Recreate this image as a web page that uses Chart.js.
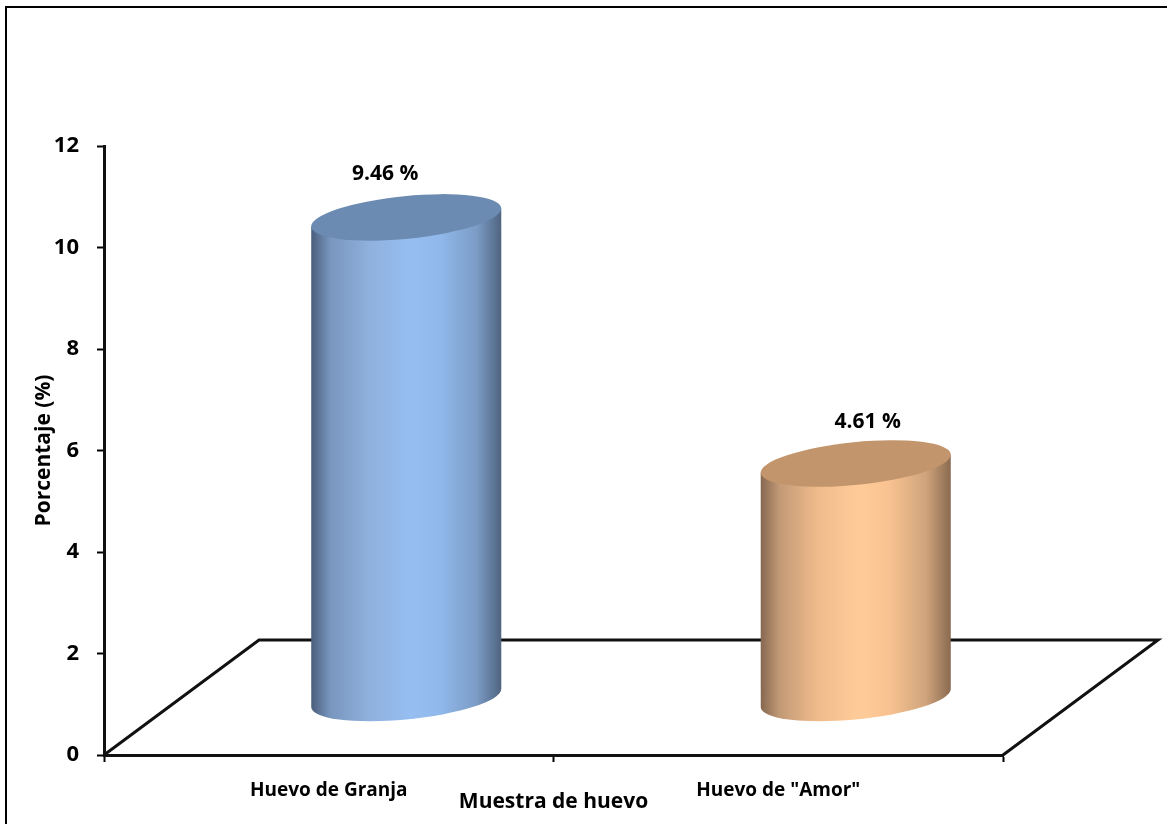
<!DOCTYPE html>
<html lang="es">
<head>
<meta charset="utf-8">
<title>Muestra de huevo</title>
<script src="https://cdn.jsdelivr.net/npm/chart.js@4/dist/chart.umd.min.js"></script>
<style>
    html, body { margin: 0; padding: 0; background: #fff; overflow: hidden; }
    #frame { position: absolute; left: 5px; top: 6px; right: 0; bottom: 0; border-left: 2px solid #000; border-top: 2px solid #000; }
    canvas { position: absolute; left: 0; top: 0; }
</style>
</head>
<body>
<div id="frame"></div>
<canvas id="chart" width="1167" height="824"></canvas>
<script>
// Data
const categories = ['Huevo de Granja', 'Huevo de "Amor"'];
const percentages = [9.46, 4.61];
const valueLabels = ['9.46 %', '4.61 %'];
const yTicks = [0, 2, 4, 6, 8, 10, 12];

// Cylinder colours per bar, left edge to right edge
const gradientStops = [0, 0.1, 0.3, 0.52, 0.68, 0.87, 1];
const blueShades = ['#4a5e7c', '#7896be', '#8fb0dc', '#96bef1', '#90b8ea', '#7c9cc6', '#4f6480'];
const orangeShades = ['#866850', '#c29a76', '#f0bb8c', '#ffcc99', '#f8c290', '#cfa47c', '#8a6a50'];
const bodyShades = [blueShades, orangeShades];
const capColors = ['#6c8bb3', '#c3956c'];

// Nudge of each value label from the centre of its cap
const labelOffsets = [[-21, -43], [12, -42]];

const FONT = '"Open Sans", sans-serif';
const DEPTH_X = 155;
const DEPTH_Y = 115;
const TILT = -5.7 * Math.PI / 180;

// Floor of the 3D plot, behind the bars
const floorPlugin = {
    id: 'floor',
    beforeDatasetsDraw(chart) {
        const { left, right, bottom } = chart.chartArea;
        const ctx = chart.ctx;
        ctx.save();
        ctx.strokeStyle = '#111';
        ctx.lineWidth = 3;
        ctx.beginPath();
        ctx.moveTo(left, bottom);
        ctx.lineTo(left + DEPTH_X, bottom - DEPTH_Y);
        ctx.lineTo(right + DEPTH_X, bottom - DEPTH_Y);
        ctx.lineTo(right, bottom);
        ctx.stroke();
        ctx.restore();
    }
};

// Draws each bar element as a cylinder standing in the middle of the floor
const cylinderPlugin = {
    id: 'cylinder',
    beforeDatasetDraw(chart, args) {
        const ctx = chart.ctx;
        args.meta.data.forEach((bar, i) => {
            const halfWidth = bar.width / 2;
            const a = halfWidth * 1.005;
            const b = halfWidth * 0.225;
            const cx = bar.x + DEPTH_X / 2;
            const topY = bar.y - DEPTH_Y / 2;
            const baseY = bar.base - DEPTH_Y / 2 + 1;

            // parameter of the rightmost point on the tilted ellipse
            const t0 = Math.atan2(-b * Math.sin(TILT), a * Math.cos(TILT));
            const px = a * Math.cos(t0) * Math.cos(TILT) - b * Math.sin(t0) * Math.sin(TILT);
            const py = a * Math.cos(t0) * Math.sin(TILT) + b * Math.sin(t0) * Math.cos(TILT);

            const gradient = ctx.createLinearGradient(cx - px, 0, cx + px, 0);
            gradientStops.forEach((stop, s) => gradient.addColorStop(stop, bodyShades[i][s]));

            ctx.save();
            ctx.fillStyle = gradient;
            ctx.beginPath();
            ctx.ellipse(cx, baseY, a, b, TILT, t0, t0 + Math.PI);
            ctx.lineTo(cx - px, topY - py);
            ctx.lineTo(cx + px, topY + py);
            ctx.closePath();
            ctx.fill();

            ctx.fillStyle = capColors[i];
            ctx.beginPath();
            ctx.ellipse(cx, topY, a, b, TILT, 0, Math.PI * 2);
            ctx.fill();

            ctx.fillStyle = '#000';
            ctx.font = 'bold 21px ' + FONT;
            ctx.textAlign = 'center';
            ctx.textBaseline = 'middle';
            ctx.fillText(valueLabels[i], cx + labelOffsets[i][0], topY + labelOffsets[i][1]);
            ctx.restore();
        });
        return false;
    }
};

new Chart(document.getElementById('chart'), {
    type: 'bar',
    data: {
        labels: categories,
        datasets: [{
            data: percentages,
            backgroundColor: capColors,
            barPercentage: 0.4227,
            categoryPercentage: 1
        }]
    },
    plugins: [floorPlugin, cylinderPlugin],
    options: {
        responsive: false,
        animation: false,
        layout: {
            padding: { left: 0, right: 164, top: 146, bottom: 0 }
        },
        plugins: {
            legend: { display: false },
            tooltip: { enabled: false }
        },
        scales: {
            x: {
                afterFit(scale) { scale.height = 69; },
                grid: { offset: true, drawOnChartArea: false, tickLength: 7, tickWidth: 2, tickColor: '#000' },
                border: { color: '#111', width: 3 },
                ticks: {
                    color: '#000',
                    padding: 17,
                    maxRotation: 0,
                    autoSkip: false,
                    font: { family: FONT, weight: 'bold', size: 19 }
                },
                title: {
                    display: true,
                    text: 'Muestra de huevo',
                    color: '#000',
                    padding: { top: 0, bottom: 9 },
                    font: { family: FONT, weight: 'bold', size: 21 }
                }
            },
            y: {
                afterFit(scale) { scale.width = 104; },
                min: 0,
                max: 12,
                afterBuildTicks(scale) { scale.ticks = yTicks.map(value => ({ value })); },
                grid: { drawOnChartArea: false, tickLength: 7, tickWidth: 2, tickColor: '#000' },
                border: { color: '#111', width: 3 },
                ticks: {
                    color: '#000',
                    padding: 18,
                    font: { family: FONT, weight: 'bold', size: 22 }
                },
                title: {
                    display: true,
                    text: 'Porcentaje (%)',
                    color: '#000',
                    padding: { top: 31, bottom: 0 },
                    font: { family: FONT, weight: 'bold', size: 21 }
                }
            }
        }
    }
});
</script>
</body>
</html>
